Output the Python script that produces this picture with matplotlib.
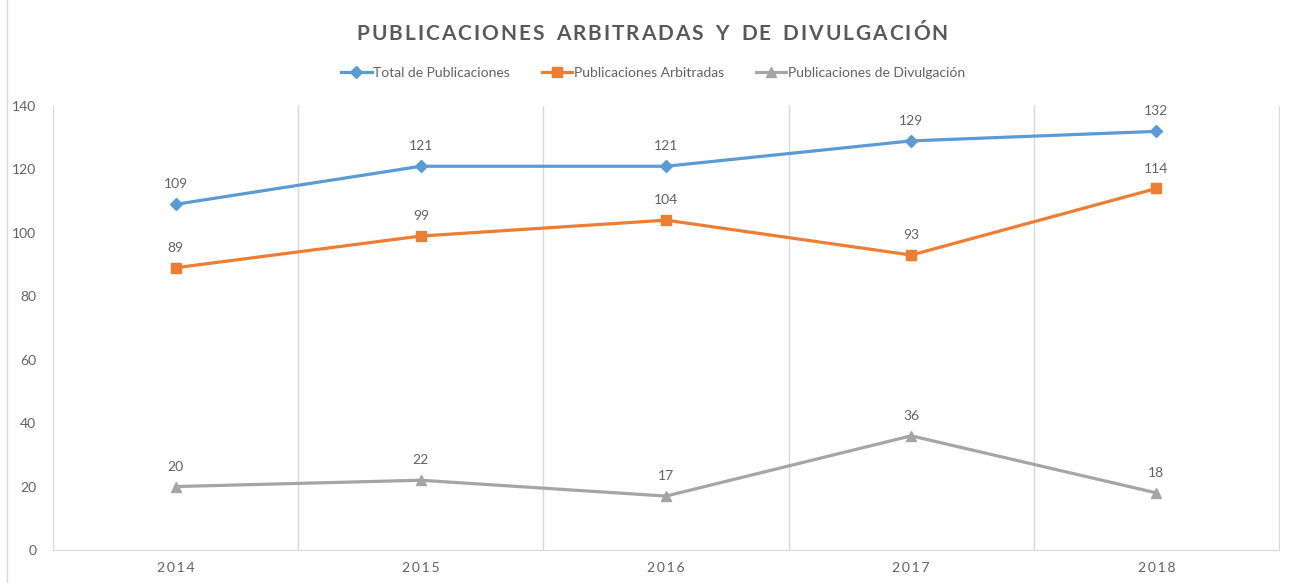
import matplotlib
matplotlib.use("Agg")
import matplotlib.pyplot as plt
from matplotlib.lines import Line2D
import numpy as np

plt.rcParams['font.family'] = ['Lato', 'DejaVu Sans']

years = ['2014', '2015', '2016', '2017', '2018']
total = [109, 121, 121, 129, 132]
arbitradas = [89, 99, 104, 93, 114]
divulgacion = [20, 22, 17, 36, 18]
series_names = ['Total de Publicaciones', 'Publicaciones Arbitradas', 'Publicaciones de Divulgación']
title = 'PUBLICACIONES  ARBITRADAS  Y  DE  DIVULGACIÓN'

blue = '#5B9BD5'
orange = '#ED7D31'
grey = '#A5A5A5'
txt = '#626262'
grid = '#D9D9D9'

fig = plt.figure(figsize=(12.96, 5.83), dpi=100)
ax = fig.add_axes([53/1296, 1-550/583, (1279-53)/1296, (550-106)/583])

x = np.arange(len(years))
styles = [(total, blue, 'D', 6), (arbitradas, orange, 's', 7.5), (divulgacion, grey, '^', 7.5)]
for (vals, c, m, ms), name in zip(styles, series_names):
    ax.plot(x, vals, color=c, lw=2.3, marker=m, ms=ms, label=name, zorder=3)
    for xi, v in zip(x, vals):
        ax.annotate(str(v), (xi, v), xytext=(0, 10), textcoords='offset points',
                    ha='center', va='bottom', color=txt, fontsize=10)

ax.set_xlim(-0.5, len(years) - 0.5)
ax.set_ylim(0, 140)
ax.set_yticks(range(0, 141, 20))
ax.set_xticks(x)
ax.set_xticklabels(['\u2009'.join(y) for y in years])
for b in np.arange(0.5, len(years) - 0.5, 1):
    ax.axvline(b, color=grid, lw=1, zorder=1)
ax.spines['top'].set_visible(False)
for s in ['left', 'right', 'bottom']:
    ax.spines[s].set_color(grid)
ax.tick_params(length=0, colors=txt, labelsize=10)
ax.tick_params(axis='y', pad=12)
ax.tick_params(axis='x', pad=9)

# legend
fig.legend(loc='center', bbox_to_anchor=(653/1296, 1-73/583), ncol=3, frameon=False,
           fontsize=10, handlelength=2.2, handletextpad=0.1, columnspacing=2.3,
           labelcolor=txt)

# letter-spaced title
fig.canvas.draw()
r = fig.canvas.get_renderer()
chars = []
total_w = 0
gap = 2.0
for ch in title:
    if ch == ' ':
        w = 3.0
    else:
        t = fig.text(0, 0, ch, fontsize=15, fontweight='bold')
        w = t.get_window_extent(r).width
        t.remove()
    chars.append((ch, w))
    total_w += w + gap
total_w -= gap
xp = 652 - total_w / 2
for ch, w in chars:
    if ch != ' ':
        fig.text(xp / 1296, 1 - 34/583, ch, fontsize=15, fontweight='bold',
                 color='#595959', va='center', ha='left')
    xp += w + gap

fig.add_artist(Line2D([7/1296, 7/1296], [0, 1], color=grid, lw=1))

fig.savefig('out.png', dpi=100)
